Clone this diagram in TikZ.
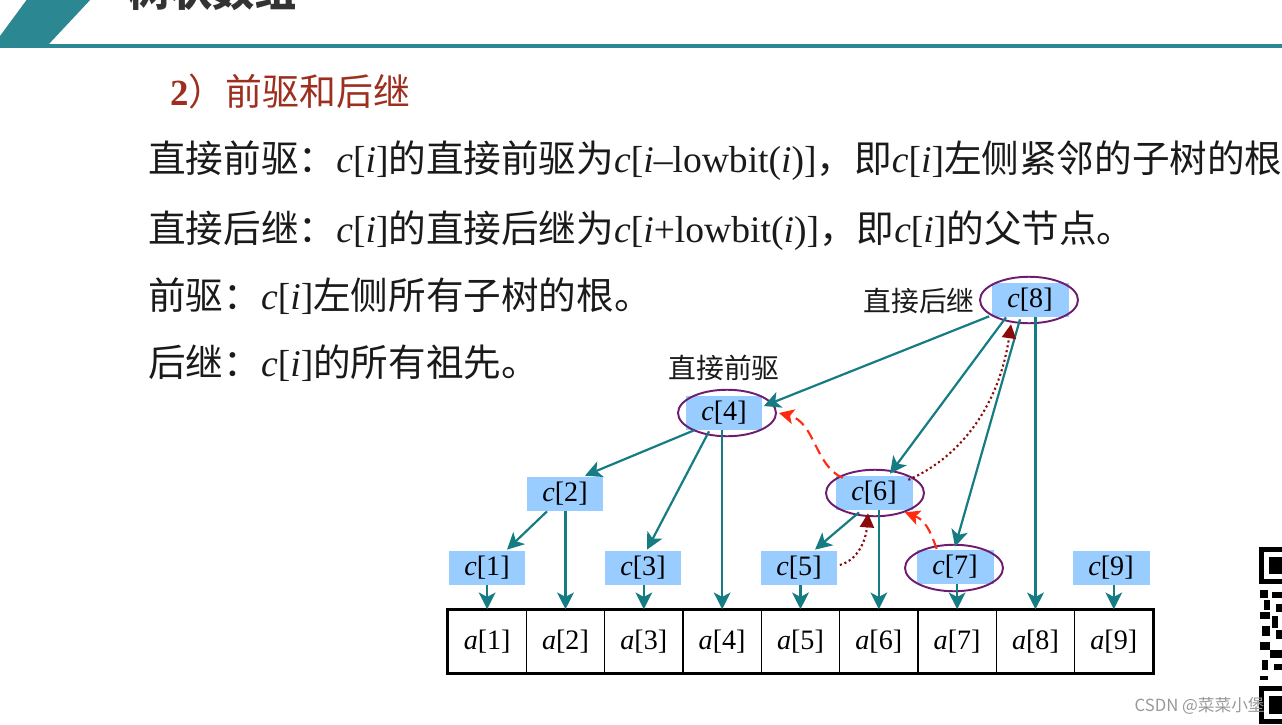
\documentclass[tikz,border=0pt]{standalone}
\usepackage{fontspec}
\setmainfont{Liberation Serif}
\newfontfamily\cjk{Noto Sans CJK SC}
\usetikzlibrary{arrows.meta,calc,shapes.geometric}
\definecolor{hdr}{HTML}{2B8792}
\definecolor{tl}{HTML}{167C84}
\definecolor{cbox}{HTML}{99CCFF}
\definecolor{ell}{HTML}{6E1C70}
\definecolor{sub}{HTML}{9E2F1F}
\definecolor{txt}{HTML}{1A1A1A}
\definecolor{dred}{HTML}{8B0A0A}
\definecolor{rred}{HTML}{FF2A10}
\newcommand\zh[1]{{\cjk #1}}
\newcommand\myci{\textit{c}[\textit{i}]}
\tikzset{
  cnode/.style={fill=cbox, minimum width=1.54cm, minimum height=0.68cm, inner sep=0pt, font=\fontsize{16}{16}\selectfont},
  ellnode/.style={draw=ell, line width=1.1pt, ellipse, minimum width=1.96cm, minimum height=0.93cm, inner sep=0pt},
  acell/.style={draw=black, line width=0.9pt, minimum width=1.5666cm, minimum height=1.26cm, inner sep=0pt, font=\fontsize{16}{16}\selectfont},
  tarr/.style={tl, line width=1.25pt, -{Stealth[length=9.5pt,width=9.5pt,inset=2.5pt]}},
  rarr/.style={rred, line width=1.2pt, dash pattern=on 6pt off 3.5pt, -{Stealth[length=8.5pt,width=8.5pt,inset=2pt]}},
  darr/.style={dred, line width=1.2pt, dash pattern=on 1.2pt off 1.6pt, -{Triangle[length=8pt,width=8pt]}},
  bodytxt/.style={anchor=base west, inner sep=0pt, text=txt, font=\fontsize{21.4}{21.4}\selectfont},
  lbl/.style={inner sep=0pt, text=txt, font=\cjk\fontsize{15.8}{16}\selectfont}
}
\begin{document}
\begin{tikzpicture}[x=0.02cm,y=-0.02cm]
\fill[white] (0,0) rectangle (1282,724);
\begin{scope}
\clip (0,0) rectangle (1282,724);
% header
\fill[hdr] (28,-2) -- (92,-2) -- (48,45) -- (0,45) -- (0,36) -- cycle;
\fill[hdr] (0,44) rectangle (1282,48);
\node[anchor=base west, inner sep=0pt, text=black!80, font=\cjk\bfseries\fontsize{24}{24}\selectfont] (title) at (128,6) {树状数组};
% subtitle and body text
\node[anchor=base west, inner sep=0pt, text=sub, font=\fontsize{21}{21}\selectfont] (sub) at (170,105) {\textbf{2}\zh{）前驱和后继}};
\node[bodytxt] (l1) at (148,172) {\zh{直接前驱：}\myci\zh{的直接前驱为}\textit{c}[\textit{i}–lowbit(\textit{i})]\zh{，即}\myci\zh{左侧紧邻的子树的根}};
\node[bodytxt] (l2) at (148,242) {\zh{直接后继：}\myci\zh{的直接后继为}\textit{c}[\textit{i}+lowbit(\textit{i})]\zh{，即}\myci\zh{的父节点。}};
\node[bodytxt] (l3) at (148,309) {\zh{前驱：}\myci\zh{左侧所有子树的根。}};
\node[bodytxt] (l4) at (148,376) {\zh{后继：}\myci\zh{的所有祖先。}};
% array cells
\foreach \i in {1,...,9} {
  \node[acell] (a\i) at ({448+78.33*(\i-0.5)},641.5) {\textit{a}[\i]};
}
\draw[line width=1.4pt] (a1.north west) rectangle (a9.south east);
% c nodes
\node[cnode] (c1) at (487,568) {\textit{c}[1]};
\node[cnode] (c2) at (565,494) {\textit{c}[2]};
\node[cnode] (c3) at (643,568) {\textit{c}[3]};
\node[cnode] (c4) at (724,413) {\textit{c}[4]};
\node[cnode] (c5) at (799,568) {\textit{c}[5]};
\node[cnode] (c6) at (874,493) {\textit{c}[6]};
\node[cnode] (c7) at (955,567) {\textit{c}[7]};
\node[cnode] (c8) at (1030,300) {\textit{c}[8]};
\node[cnode] (c9) at (1111,568) {\textit{c}[9]};
% ellipses
\node[ellnode] (e8) at (1029,300) {};
\node[ellnode] (e4) at (727,413) {};
\node[ellnode] (e6) at (875,493) {};
\node[ellnode] (e7) at (954,568) {};
% labels
\node[lbl] (lsucc) at (919,301) {直接后继};
\node[lbl] (lpred) at (724,368) {直接前驱};
% tree arrows
\draw[tarr] ($(c8.south west)+(-2,-1)$) -- ($(c4.east)+(1,-7)$);
\draw[tarr] ($(c8.south)+(-24,0)$) -- ($(c6.north)+(16,-2)$);
\draw[tarr] ($(c8.south)+(-10,2)$) -- ($(c7.north)+(0,-3)$);
\draw[tarr] (a8.north |- c8.south) -- (a8.north);
\draw[tarr] ($(c4.south)+(-30,0)$) -- ($(c2.north)+(20,-1)$);
\draw[tarr] ($(c4.south)+(-15,1)$) -- ($(c3.north)+(4,-1)$);
\draw[tarr] (a4.north |- c4.south) -- (a4.north);
\draw[tarr] ($(c2.south)+(-18,0)$) -- ($(c1.north)+(20,-1)$);
\draw[tarr] (a2.north |- c2.south) -- (a2.north);
\draw[tarr] ($(c6.south)+(-15,2)$) -- ($(c5.north)+(16,-1)$);
\draw[tarr] (a6.north |- c6.south) -- (a6.north);
\draw[tarr] (a1.north |- c1.south) -- (a1.north);
\draw[tarr] (a3.north |- c3.south) -- (a3.north);
\draw[tarr] (a5.north |- c5.south) -- (a5.north);
\draw[tarr] (a7.north |- c7.south) -- (a7.north);
\draw[tarr] (a9.north |- c9.south) -- (a9.north);
% predecessor / successor paths
\draw[rarr] ($(e6.north west)+(3,2)$) .. controls (815,466) and (815,422) .. ($(e4.east)+(2,0)$);
\draw[rarr] ($(e7.north west)+(18,-2)$) .. controls (930,530) and (925,520) .. ($(c6.south east)+(-8,2)$);
\draw[darr] ($(c5.east)+(2,-3)$) .. controls (858,560) and (866,540) .. ($(c6.south)+(-6,3)$);
\draw[darr] ($(e6.north east)+(-2,4)$) .. controls (965,455) and (1000,400) .. ($(e8.south)+(-18,0)$);
% QR code fragment
\fill[black] (1259,547) rectangle (1283,584);
\fill[white] (1264,552) rectangle (1283,579);
\fill[black] (1269,557) rectangle (1283,574);
\foreach \qx/\qy/\qw/\qh in {1260/590/8/8, 1272/592/11/6, 1264/600/6/10, 1276/604/7/8, 1260/612/10/7, 1272/616/6/12, 1262/626/8/10, 1276/630/7/9, 1260/642/10/8, 1270/650/13/8, 1262/660/6/10, 1274/664/9/6, 1260/676/8/4} {
  \fill[black] (\qx,\qy) rectangle ++(\qw,\qh);
}
\fill[black] (1259,686) rectangle (1283,724);
\fill[white] (1264,691) rectangle (1283,719);
\fill[black] (1269,696) rectangle (1283,714);
% watermark
\node[anchor=east, inner sep=0pt, text=black!40, font=\cjk\fontsize{9.5}{10}\selectfont] (wm) at (1265,706) {CSDN @菜菜小堡};
\end{scope}
\pgfresetboundingbox
\path[use as bounding box] (0,0) rectangle (1282,724);
\end{tikzpicture}
\end{document}
